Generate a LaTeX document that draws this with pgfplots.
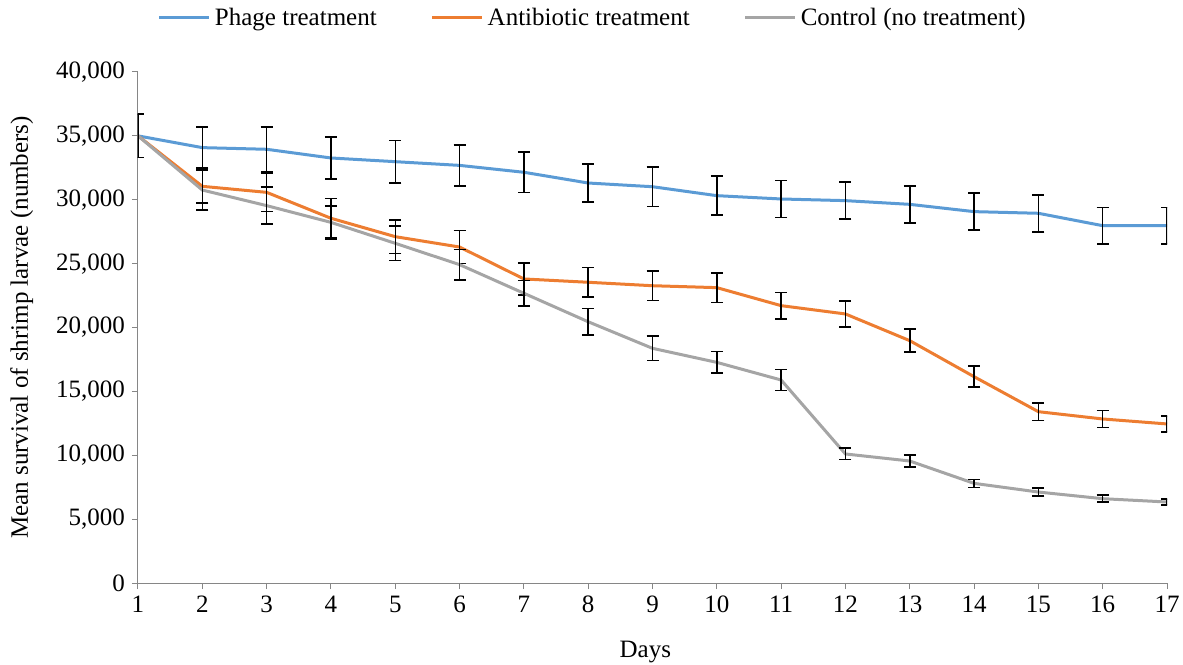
\documentclass[border=0pt]{standalone}
\usepackage{pgfplots}
\pgfplotsset{compat=1.18}
\usepackage{fontspec}
\setmainfont{Liberation Serif}
\definecolor{cblue}{HTML}{5B9BD5}
\definecolor{corange}{HTML}{ED7D31}
\definecolor{cgray}{HTML}{A5A5A5}
\definecolor{caxis}{HTML}{868686}
\newcommand{\fs}{\fontsize{12.5}{15}\selectfont}
\begin{document}
\begin{tikzpicture}
\begin{axis}[
  scale only axis,
  width=514.5pt, height=255.5pt,
  xmin=1, xmax=17, ymin=0, ymax=40000,
  xtick={1,2,...,17},
  ytick={0,5000,...,40000},
  scaled y ticks=false,
  /pgf/number format/.cd, 1000 sep={,}, assume math mode=true,
  /pgfplots/.cd,
  axis lines*=left,
  axis line style={caxis, line width=0.5pt, -},
  tick style={caxis, line width=0.5pt},
  tick align=outside,
  major tick length=3pt,
  every tick label/.append style={font=\fs, text=black},
  xlabel={Days},
  ylabel={Mean survival of shrimp larvae (numbers)},
  label style={font=\fs},
  xlabel style={at={(axis description cs:0.493,-0.135)}, anchor=center},
  ylabel style={at={(axis description cs:-0.113,0.5)}, anchor=center},
  legend columns=3,
  legend style={draw=none, fill=none, font=\fs,
    at={(axis description cs:0.443,1.106)}, anchor=center,
    /tikz/every even column/.append style={column sep=25pt},
    inner sep=0pt},
  legend image code/.code={\draw[#1] (0pt,0pt) -- (25pt,0pt);},
  error bars/y dir=both,
  error bars/y explicit,
  error bars/error bar style={black, line width=0.75pt},
  error bars/error mark options={black, line width=0.75pt, rotate=90, mark size=3pt},
]
\coordinate (sw) at (rel axis cs:0,0);
\coordinate (ne) at (rel axis cs:1,1);
\addplot[cblue, line width=1.5pt, no markers] table[x=x, y=y, y error=e] {
x y e
1 35000 1700
2 34080 1600
3 33950 1750
4 33270 1650
5 32980 1650
6 32690 1600
7 32150 1600
8 31310 1500
9 31020 1530
10 30320 1520
11 30060 1450
12 29930 1450
13 29640 1450
14 29070 1450
15 28940 1450
16 27970 1430
17 27970 1430
};
\addlegendentry{Phage treatment}
\addplot[corange, line width=1.5pt, no markers] table[x=x, y=y, y error=e] {
x y e
1 35000 1700
2 31050 1300
3 30580 1500
4 28550 1550
5 27110 1300
6 26300 1300
7 23800 1250
8 23540 1150
9 23270 1160
10 23120 1160
11 21710 1040
12 21060 1030
13 18970 900
14 16150 820
15 13410 680
16 12840 660
17 12450 630
};
\addlegendentry{Antibiotic treatment}
\addplot[cgray, line width=1.5pt, no markers] table[x=x, y=y, y error=e] {
x y e
1 35000 1700
2 30760 1550
3 29540 1450
4 28230 1300
5 26590 1340
6 24920 1200
7 22680 1000
8 20450 1050
9 18370 960
10 17270 840
11 15890 820
12 10100 450
13 9550 470
14 7800 310
15 7120 320
16 6600 270
17 6340 250
};
\addlegendentry{Control (no treatment)}
\end{axis}
\pgfresetboundingbox
\path[use as bounding box] ([shift={(-69pt,-40.5pt)}]sw) rectangle ([shift={(8pt,36pt)}]ne);
\end{tikzpicture}
\end{document}
